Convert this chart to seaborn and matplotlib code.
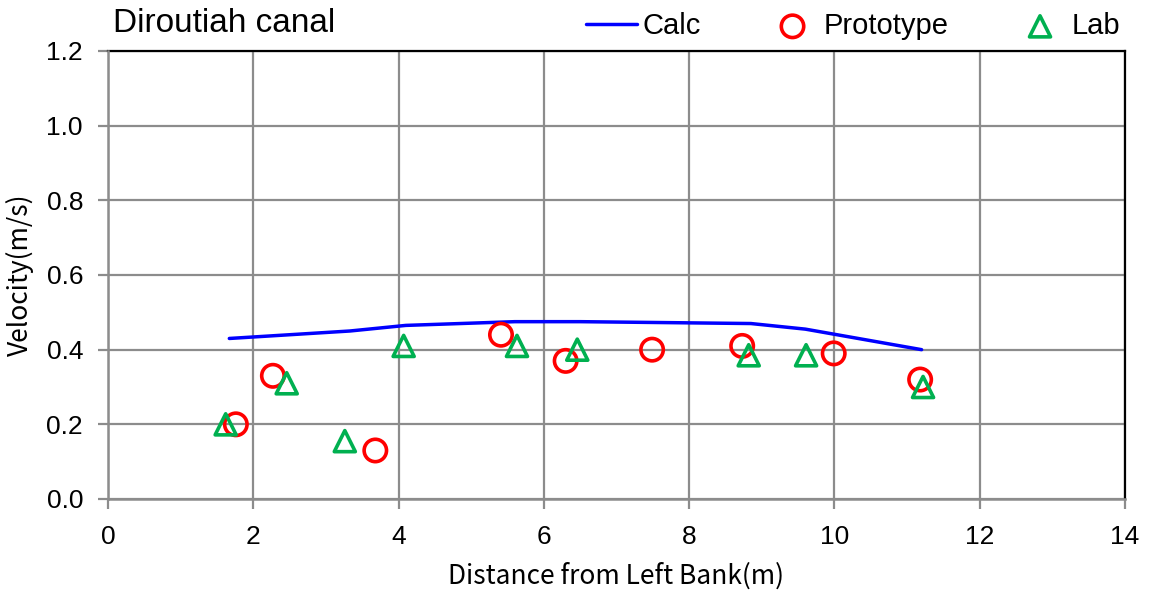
import numpy as np
import pandas as pd
import seaborn as sns
from matplotlib import pyplot as plt

# distance from left bank (m) and velocity (m/s)
calc_x = [1.67, 3.33, 4.1, 5.6, 6.5, 8.85, 9.6, 11.2]
calc_v = [0.43, 0.45, 0.465, 0.475, 0.475, 0.47, 0.455, 0.40]

proto_x = [1.76, 2.27, 3.68, 5.41, 6.30, 7.49, 8.73, 9.99, 11.18]
proto_v = [0.20, 0.33, 0.13, 0.44, 0.37, 0.40, 0.41, 0.39, 0.32]

lab_x = [1.62, 2.46, 3.26, 4.07, 5.63, 6.46, 8.82, 9.61, 11.22]
lab_v = [0.20, 0.31, 0.155, 0.41, 0.41, 0.40, 0.385, 0.385, 0.30]

sns.set_style('white')
plt.rcParams['font.family'] = ['Liberation Sans', 'DejaVu Sans']
plt.rcParams['text.color'] = 'black'
plt.rcParams['axes.labelcolor'] = 'black'

fig = plt.figure(figsize=(11.54, 5.92), dpi=100)
ax = fig.add_axes([108/1154, 1 - 499/592, (1125-108)/1154, (499-51)/592])

calc = pd.DataFrame({'x': calc_x, 'v': calc_v})
proto = pd.DataFrame({'x': proto_x, 'v': proto_v})
lab = pd.DataFrame({'x': lab_x, 'v': lab_v})

sns.lineplot(data=calc, x='x', y='v', ax=ax, color='#0000ff', linewidth=2.5, label='Calc', zorder=3)
sns.scatterplot(data=proto, x='x', y='v', ax=ax, marker='o', s=260, facecolor='none',
                edgecolor='#ff0000', linewidth=2.6, label='Prototype', zorder=4)
sns.scatterplot(data=lab, x='x', y='v', ax=ax, marker='^', s=230, facecolor='none',
                edgecolor='#00b050', linewidth=2.6, label='Lab', zorder=5)

ax.set_xlim(0, 14)
ax.set_ylim(0, 1.2)
ax.set_xticks(np.arange(0, 15, 2))
ax.set_yticks(np.arange(0, 1.21, 0.2))
ax.set_yticklabels([f'{t:.1f}' for t in np.arange(0, 1.21, 0.2)])

grid_col = '#8c8c8c'
ax.grid(True, color=grid_col, linewidth=1.6)
ax.tick_params(labelsize=19, labelcolor='black', color=grid_col, width=1.6,
               length=7, direction='out', left=True, bottom=True)
ax.tick_params(axis='y', pad=11)
ax.tick_params(axis='x', pad=12)
for s in ['top', 'right']:
    ax.spines[s].set_color('black')
    ax.spines[s].set_linewidth(1.6)
for s in ['left', 'bottom']:
    ax.spines[s].set_color(grid_col)
    ax.spines[s].set_linewidth(1.8)
    ax.spines[s].set_zorder(2.6)

lab_font = ['Noto Sans CJK JP', 'DejaVu Sans']
ax.set_xlabel('Distance from Left Bank(m)', fontsize=19, family=lab_font, va='center')
ax.set_ylabel('Velocity(m/s)', fontsize=19, family=lab_font, va='center')
ax.xaxis.set_label_coords(0.5, (499 - 576) / 448)
ax.yaxis.set_label_coords((20 - 108) / 1017, 0.5)

fig.text(113/1154, 1 - 23/592, 'Diroutiah canal', fontsize=24, va='center', ha='left')

ax.legend(loc='center right', bbox_to_anchor=(1120/1154, 1 - 26/592),
          bbox_transform=fig.transFigure, ncol=3, frameon=False,
          fontsize=21, handlelength=1.75, columnspacing=2.25, handletextpad=0.2,
          borderaxespad=0, borderpad=0)

fig.savefig('out.png', dpi=100)
